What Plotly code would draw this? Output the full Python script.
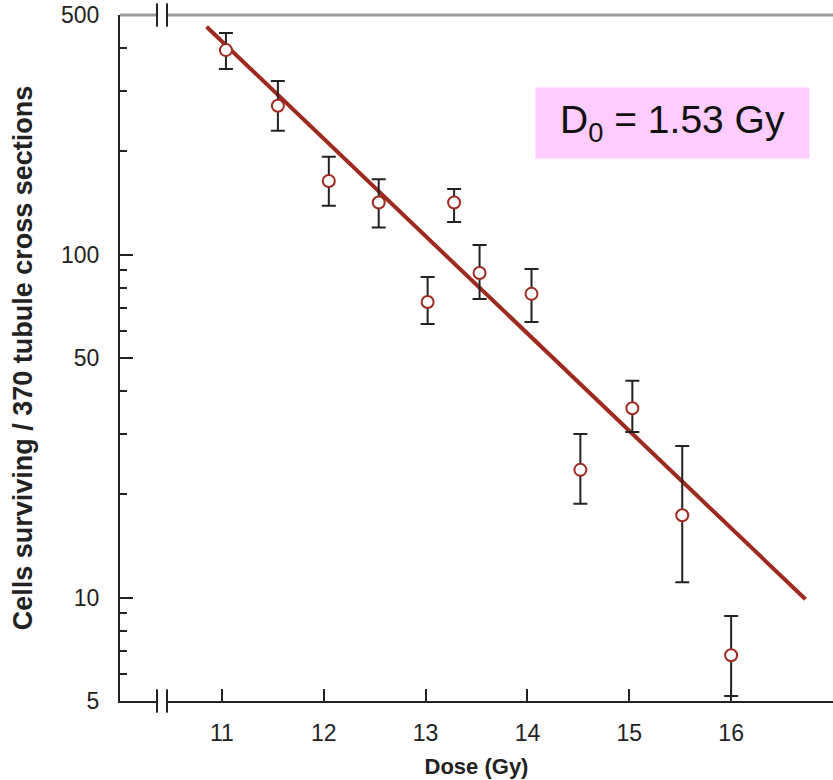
import math
import plotly.graph_objects as go

# Surviving cells versus radiation dose, with error bars
dose = [11.04, 11.55, 12.05, 12.54, 13.02, 13.28, 13.53, 14.04, 14.52, 15.03, 15.52, 16.0]
cells = [395, 272, 164, 142, 72.8, 142, 88.5, 76.9, 23.6, 35.7, 17.4, 6.8]
err_plus = [48, 49, 29, 24, 13.3, 13.5, 18.3, 14.0, 6.4, 7.2, 10.3, 2.05]
err_minus = [47, 42, 25, 22, 10.0, 17.4, 14.2, 13.2, 4.8, 5.3, 6.3, 1.63]

# Exponential fit: N = N_start * exp(-(D - D_start) / D0)
D0 = 1.53
fit_dose = [10.85, 16.73]
fit_start = 462
fit_cells = [fit_start * math.exp(-(d - fit_dose[0]) / D0) for d in fit_dose]

x_ticks = [11, 12, 13, 14, 15, 16]
y_major = [5, 10, 50, 100, 500]
y_minor = [6, 7, 8, 9, 20, 30, 40, 60, 70, 80, 90, 200, 300, 400]

RED = "#9e2a1f"
INK = "#222222"
FONT = "Arial, Liberation Sans, Helvetica, sans-serif"

fig = go.Figure()
fig.add_trace(go.Scatter(
    x=fit_dose, y=fit_cells, mode="lines",
    line=dict(color=RED, width=4), hoverinfo="skip", showlegend=False,
))
fig.add_trace(go.Scatter(
    x=dose, y=cells, mode="markers",
    marker=dict(symbol="circle", size=12, color="white",
                line=dict(color=RED, width=2)),
    error_y=dict(type="data", symmetric=False, array=err_plus,
                 arrayminus=err_minus, color=INK, thickness=2, width=7),
    showlegend=False,
))

# Gray top border and axis-break marks
shapes = [dict(type="line", xref="paper", yref="paper", x0=0, x1=1, y0=1, y1=1,
               line=dict(color="#999999", width=3))]
for yb in (1, 0):
    shapes.append(dict(type="rect", xref="paper", yref="paper",
                       x0=0.0525, x1=0.0655, y0=yb - 0.004, y1=yb + 0.004,
                       fillcolor="white", line=dict(width=0), layer="above"))
    for xb in (0.0519, 0.0659):
        shapes.append(dict(type="line", xref="paper", yref="paper",
                           x0=xb, x1=xb, y0=yb - 0.017, y1=yb + 0.017,
                           line=dict(color=INK, width=2), layer="above"))

fig.update_layout(
    width=833, height=780,
    margin=dict(l=120, r=0, t=15, b=79),
    paper_bgcolor="white", plot_bgcolor="white",
    font=dict(family=FONT, color=INK, size=23),
    shapes=shapes,
    annotations=[dict(
        text="D<sub>0</sub> = 1.53 Gy", xref="paper", yref="paper",
        x=0.775, y=0.8426, xanchor="center", yanchor="middle",
        showarrow=False, font=dict(size=39, color="#111111", family=FONT),
        bgcolor="#ffccff", width=271, height=68,
    )],
)
fig.update_xaxes(
    range=[10, 17], tickmode="array", tickvals=x_ticks,
    ticks="inside", ticklen=12, tickwidth=2, tickcolor=INK,
    showline=True, linecolor=INK, linewidth=2, showgrid=False, zeroline=False,
    tickfont=dict(size=23), ticklabelstandoff=10,
    title=dict(text="<b>Dose (Gy)</b>", font=dict(size=22), standoff=14),
)
fig.update_yaxes(
    type="log", range=[math.log10(5), math.log10(500)],
    tickmode="array", tickvals=y_major, ticktext=[str(v) for v in y_major],
    ticks="inside", ticklen=13, tickwidth=2, tickcolor=INK,
    minor=dict(tickmode="array", tickvals=y_minor, ticks="inside",
               ticklen=7, tickwidth=2, tickcolor=INK, showgrid=False),
    showline=True, linecolor=INK, linewidth=2, showgrid=False, zeroline=False,
    tickfont=dict(size=23), ticklabelstandoff=14,
    title=dict(text="<b>Cells surviving / 370 tubule cross sections</b>",
               font=dict(size=27), standoff=21),
)

fig.write_html("out.html")
